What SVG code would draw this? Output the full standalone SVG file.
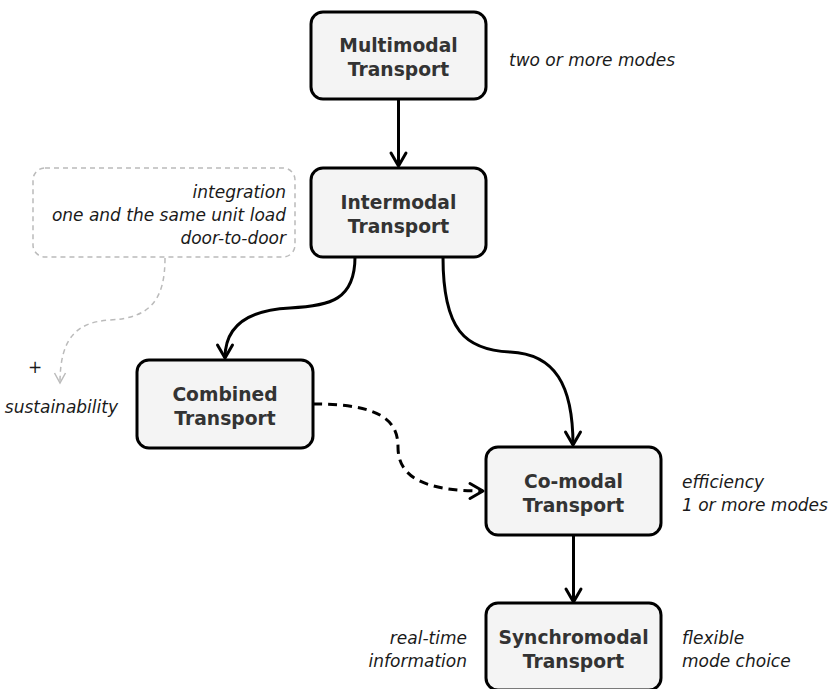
<svg xmlns="http://www.w3.org/2000/svg" width="829" height="689" viewBox="0 0 829 689">
  <style>
    .node rect { fill: #f4f4f4; stroke: #000; stroke-width: 3; }
    .node text { font-family: "DejaVu Sans", Verdana, sans-serif; font-weight: bold; font-size: 18.7px; fill: #333; text-anchor: middle; }
    .note { font-family: "DejaVu Sans", Verdana, sans-serif; font-style: italic; font-size: 17px; fill: #1a1a1a; }
    .end { text-anchor: end; }
    .edge { fill: none; stroke: #000; stroke-width: 3; }
    .dash { stroke-dasharray: 9 6; }
    .hint { fill: none; stroke: #bbb; stroke-width: 1.5; stroke-dasharray: 5 4; }
  </style>
  <defs>
    <marker id="arrow" markerUnits="userSpaceOnUse" markerWidth="30" markerHeight="30" refX="0" refY="0" orient="auto" overflow="visible">
      <path d="M-13,-7.5 L0,0 L-13,7.5" fill="none" stroke="#000" stroke-width="3" stroke-linejoin="round" stroke-linecap="round" stroke-dasharray="none"/>
    </marker>
    <marker id="arrow-grey" markerUnits="userSpaceOnUse" markerWidth="20" markerHeight="20" refX="0" refY="0" orient="auto" overflow="visible">
      <path d="M-10,-5.5 L0,0 L-10,5.5" fill="none" stroke="#bbb" stroke-width="1.5" stroke-dasharray="none"/>
    </marker>
  </defs>

  <!-- connectors -->
  <g id="edges">
    <path class="edge" d="M398.5,99 L398.5,166" marker-end="url(#arrow)"/>
    <path class="edge" d="M355,257 C355,300 330,306 290,308 C250,310 225,325 225,358" marker-end="url(#arrow)"/>
    <path class="edge" d="M443,257 C443,330 465,350 510,352 C555,354 573,385 573,445" marker-end="url(#arrow)"/>
    <path class="edge dash" d="M313,404 C380,404 398,420 398,447 C398,475 420,491 483,491" marker-end="url(#arrow)"/>
    <path class="edge" d="M573.5,535 L573.5,602" marker-end="url(#arrow)"/>
    <path class="hint" d="M165,258 C165,300 150,318 110,320 C75,322 60,340 60,383" marker-end="url(#arrow-grey)"/>
  </g>

  <!-- nodes -->
  <g id="multimodal" class="node">
    <rect x="311" y="12" width="175" height="87" rx="12"/>
    <text x="398.5" y="52">Multimodal</text>
    <text x="398.5" y="76">Transport</text>
  </g>
  <g id="intermodal" class="node">
    <rect x="311" y="168" width="175" height="89" rx="12"/>
    <text x="398.5" y="209">Intermodal</text>
    <text x="398.5" y="233">Transport</text>
  </g>
  <g id="combined" class="node">
    <rect x="137" y="360" width="176" height="88" rx="12"/>
    <text x="225" y="400.5">Combined</text>
    <text x="225" y="424.5">Transport</text>
  </g>
  <g id="comodal" class="node">
    <rect x="486" y="447" width="175" height="88" rx="12"/>
    <text x="573.5" y="487.5">Co-modal</text>
    <text x="573.5" y="511.5">Transport</text>
  </g>
  <g id="synchromodal" class="node">
    <rect x="486" y="603" width="175" height="87" rx="12"/>
    <text x="573.5" y="643.5">Synchromodal</text>
    <text x="573.5" y="667.5">Transport</text>
  </g>

  <!-- intermodal characteristics -->
  <g id="intermodal-notes">
    <rect x="33" y="168" width="262" height="89" rx="12" class="hint"/>
    <text class="note end" x="286" y="198">integration</text>
    <text class="note end" x="286" y="221">one and the same unit load</text>
    <text class="note end" x="286" y="244">door-to-door</text>
  </g>

  <!-- annotations -->
  <g id="annotations">
    <text class="note" x="509" y="66">two or more modes</text>
    <text x="35" y="373" font-family="DejaVu Sans, Verdana, sans-serif" font-size="17" fill="#1a1a1a" text-anchor="middle">+</text>
    <text class="note end" x="118" y="413">sustainability</text>
    <text class="note" x="682" y="488">efficiency</text>
    <text class="note" x="682" y="511">1 or more modes</text>
    <text class="note" x="682" y="644">flexible</text>
    <text class="note" x="682" y="667">mode choice</text>
    <text class="note end" x="467" y="644">real-time</text>
    <text class="note end" x="467" y="667">information</text>
  </g>
</svg>
